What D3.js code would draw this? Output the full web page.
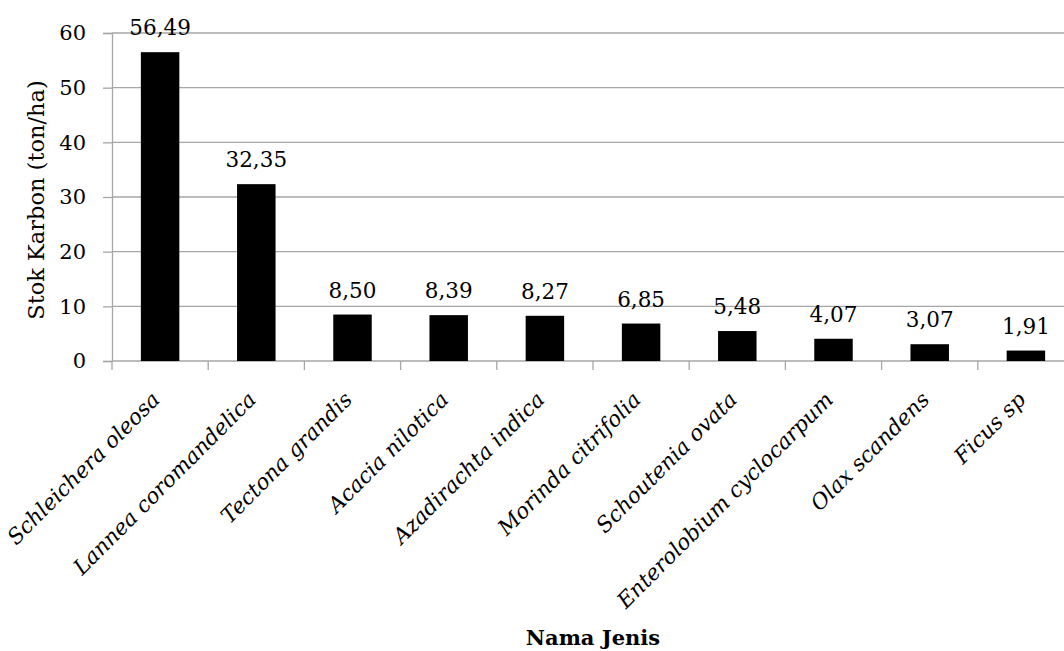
<!DOCTYPE html>
<html>
<head>
<meta charset="utf-8">
<script src="https://cdn.jsdelivr.net/npm/d3@7"></script>
<style>
  body { margin: 0; background: #fff; }
  svg { display: block; }
</style>
</head>
<body>
<svg id="chart" width="1064" height="651"></svg>
<script>
const species = [
  'Schleichera oleosa', 'Lannea coromandelica', 'Tectona grandis',
  'Acacia nilotica', 'Azadirachta indica', 'Morinda citrifolia',
  'Schoutenia ovata', 'Enterolobium cyclocarpum', 'Olax scandens', 'Ficus sp',
];
const carbonStock = [56.49, 32.35, 8.50, 8.39, 8.27, 6.85, 5.48, 4.07, 3.07, 1.91];
const yTicks = [0, 10, 20, 30, 40, 50, 60];

const FONT = '"DejaVu Serif", serif';
const plotLeft = 112, plotRight = 1074, plotTop = 33, plotBottom = 361;

const svg = d3.select('#chart');

const x = d3.scaleBand().domain(species).range([plotLeft, plotRight]).paddingInner(0.6).paddingOuter(0.3);
const y = d3.scaleLinear().domain([0, 60]).range([plotBottom, plotTop]);

// gridlines
svg.append('g')
  .selectAll('line')
  .data(yTicks.filter(d => d > 0))
  .join('line')
  .attr('x1', plotLeft).attr('x2', plotRight)
  .attr('y1', d => y(d)).attr('y2', d => y(d))
  .attr('stroke', '#a6a6a6').attr('stroke-width', 1.3);

// y axis
const yAxis = d3.axisLeft(y).tickValues(yTicks).tickSize(9).tickPadding(17);
const yG = svg.append('g').attr('transform', `translate(${plotLeft},0)`).call(yAxis);
yG.selectAll('path, line').attr('stroke', '#a6a6a6').attr('stroke-width', 1.3);
yG.selectAll('text').attr('font-family', FONT).attr('font-size', 21).attr('fill', '#000');

// x axis with ticks between categories
const step = x.step();
const boundaries = d3.range(species.length + 1).map(i => plotLeft + i * step);
svg.append('line')
  .attr('x1', plotLeft).attr('x2', plotRight).attr('y1', plotBottom).attr('y2', plotBottom)
  .attr('stroke', '#a6a6a6').attr('stroke-width', 1.3);
svg.append('g')
  .selectAll('line')
  .data(boundaries)
  .join('line')
  .attr('x1', d => d).attr('x2', d => d)
  .attr('y1', plotBottom).attr('y2', plotBottom + 9)
  .attr('stroke', '#a6a6a6').attr('stroke-width', 1.3);

// bars
svg.append('g')
  .selectAll('rect')
  .data(species)
  .join('rect')
  .attr('x', d => x(d))
  .attr('width', x.bandwidth())
  .attr('y', (d, i) => y(carbonStock[i]))
  .attr('height', (d, i) => plotBottom - y(carbonStock[i]))
  .attr('fill', '#000');

// value labels
const fmt = v => v.toFixed(2).replace('.', ',');
svg.append('g')
  .selectAll('text')
  .data(species)
  .join('text')
  .attr('x', d => x(d) + x.bandwidth() / 2)
  .attr('y', (d, i) => y(carbonStock[i]) - 17)
  .attr('text-anchor', 'middle')
  .attr('font-family', FONT).attr('font-size', 21.5)
  .text((d, i) => fmt(carbonStock[i]));

// category labels
svg.append('g')
  .selectAll('text')
  .data(species)
  .join('text')
  .attr('transform', d => `translate(${x(d) + x.bandwidth() / 2 + 1},${plotBottom + 40}) rotate(-45)`)
  .attr('text-anchor', 'end')
  .attr('font-family', FONT).attr('font-style', 'italic').attr('font-size', 21.5)
  .text(d => d);

// axis titles
svg.append('text')
  .attr('transform', `translate(44,${(plotTop + plotBottom) / 2 + 3}) rotate(-90)`)
  .attr('text-anchor', 'middle')
  .attr('font-family', FONT).attr('font-size', 22.5)
  .text('Stok Karbon (ton/ha)');

svg.append('text')
  .attr('x', (plotLeft + plotRight) / 2).attr('y', 645)
  .attr('text-anchor', 'middle')
  .attr('font-family', FONT).attr('font-weight', 'bold').attr('font-size', 21)
  .text('Nama Jenis');
</script>
</body>
</html>
